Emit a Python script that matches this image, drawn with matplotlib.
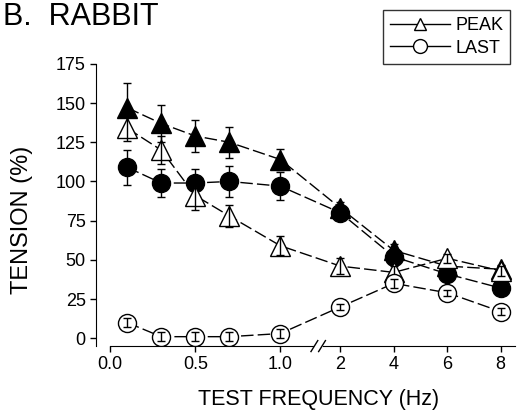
import numpy as np
import matplotlib.pyplot as plt
from matplotlib.lines import Line2D

plt.rcParams['font.family'] = ['Liberation Sans', 'DejaVu Sans']

freq = [0.1, 0.3, 0.5, 0.7, 1.0, 2, 4, 6, 8]
peak_filled = [147, 137, 129, 125, 114, 83, 56, 46, 44]
peak_filled_err = [16, 12, 10, 10, 7, 4, 4, 3, 3]
peak_open = [134, 120, 91, 78, 59, 46, 42, 51, 43]
peak_open_err = [8, 9, 9, 7, 6, 5, 4, 3, 3]
last_filled = [109, 99, 99, 100, 97, 80, 52, 41, 32]
last_filled_err = [11, 9, 9, 10, 9, 4, 4, 3, 3]
last_open = [10, 1, 1, 1, 3, 20, 35, 29, 17]
last_open_err = [3, 3, 3, 3, 3, 2, 3, 2, 2]

xtick_vals = [0.0, 0.5, 1.0, 2, 4, 6, 8]
xtick_labels = ['0.0', '0.5', '1.0', '2', '4', '6', '8']

# broken axis: 0-1 Hz linear, then 2-8 Hz compressed
def xpos(f):
    f = np.asarray(f, dtype=float)
    return np.where(f <= 1.0, f, 1.353 + (f - 2) * 0.157)

fig = plt.figure(figsize=(5.23, 4.12), dpi=100)
ax = fig.add_axes([0.184, 0.160, 0.801, 0.685])

x = xpos(freq)
series = [
    (peak_filled, peak_filled_err, '^', 'black', 14),
    (last_filled, last_filled_err, 'o', 'black', 13),
    (peak_open, peak_open_err, '^', 'white', 14),
    (last_open, last_open_err, 'o', 'white', 13),
]
z = 2
for vals, err, mk, fc, ms in series:
    ax.plot(x, vals, color='black', lw=1.0, dashes=(9, 3), marker=mk,
            ms=ms, mfc=fc, mec='black', mew=1.0, zorder=z)
    ax.errorbar(x, vals, yerr=err, fmt='none', ecolor='black', elinewidth=1.0,
                capsize=3, capthick=1.0, zorder=z + 0.5)
    z += 1

ax.set_ylim(-5, 175)
ax.set_xlim(-0.082, 2.38)
ax.set_yticks([0, 25, 50, 75, 100, 125, 150, 175])
ax.set_xticks(xpos(xtick_vals))
ax.set_xticklabels(xtick_labels)
ax.tick_params(labelsize=13, direction='out', length=4, width=1)
ax.spines['top'].set_visible(False)
ax.spines['right'].set_visible(False)
ax.spines['bottom'].set_bounds(0, 2.38)

# axis break marks
for bx in [1.20, 1.245]:
    ax.plot([bx - 0.02, bx + 0.02], [-8.5, -1.5], color='black', lw=1.0,
            clip_on=False, zorder=10)
ax.plot([1.205, 1.24], [-5, -5], color='white', lw=2, clip_on=False, zorder=9)

ax.set_xlabel('TEST FREQUENCY (Hz)', fontsize=15.5)
ax.xaxis.set_label_coords(0.53, -0.152)
ax.set_ylabel('TENSION (%)', fontsize=17)
ax.yaxis.set_label_coords(-0.152, 0.447)

fig.text(0.006, 0.995, 'B.  RABBIT', fontsize=22, va='top', ha='left')

handles = [
    Line2D([], [], color='black', lw=1, marker='^', ms=8, mfc='white', mec='black'),
    Line2D([], [], color='black', lw=1, marker='o', ms=10, mfc='white', mec='black'),
]
leg = fig.legend(handles, ['PEAK', 'LAST'], loc='upper right',
                 bbox_to_anchor=(0.976, 0.976), borderaxespad=0, fontsize=13,
                 frameon=True, fancybox=False, edgecolor='black',
                 handlelength=3.3, handletextpad=0.3, labelspacing=0.3,
                 borderpad=0.4)
leg.get_frame().set_linewidth(1.0)

fig.savefig('out.png', dpi=100)
